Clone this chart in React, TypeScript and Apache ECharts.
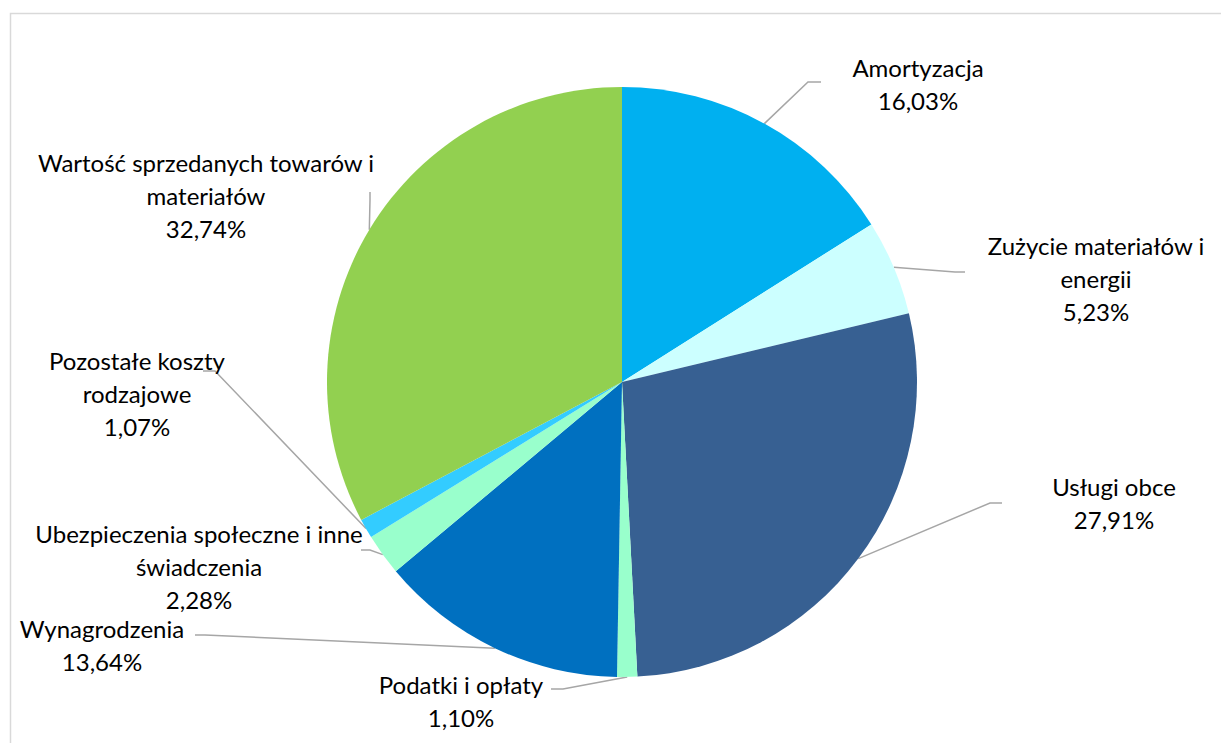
import { useEffect, useRef } from "react";
import * as echarts from "echarts";

// ---- data ----
const categories: string[] = [
  "Amortyzacja",
  "Zużycie materiałów i energii",
  "Usługi obce",
  "Podatki i opłaty",
  "Wynagrodzenia",
  "Ubezpieczenia społeczne i inne świadczenia",
  "Pozostałe koszty rodzajowe",
  "Wartość sprzedanych towarów i materiałów",
];
const values: number[] = [16.03, 5.23, 27.91, 1.1, 13.64, 2.28, 1.07, 32.74];

// ---- presentation ----
const colors: string[] = [
  "#00B0F0",
  "#CCFFFF",
  "#376092",
  "#99FFCC",
  "#0070C0",
  "#99FFCC",
  "#33CCFF",
  "#92D050",
];
const wrappedNames: string[] = [
  "Amortyzacja",
  "Zużycie materiałów i\nenergii",
  "Usługi obce",
  "Podatki i opłaty",
  "Wynagrodzenia",
  "Ubezpieczenia społeczne i inne\nświadczenia",
  "Pozostałe koszty\nrodzajowe",
  "Wartość sprzedanych towarów i\nmateriałów",
];
// label block centres (px)
const labelCenters: [number, number][] = [
  [918, 84],
  [1096, 278],
  [1114, 503],
  [461, 701],
  [102, 645],
  [199, 566],
  [137, 393],
  [206, 195],
];
// leader line bend + end (px)
const leaderTails: [number, number][][] = [
  [[808, 82], [821, 82]],
  [[955, 272], [965, 272]],
  [[990, 503], [1002, 503]],
  [[563, 689], [551, 689]],
  [[205, 635], [195, 635]],
  [[370, 550], [361, 550]],
  [[215, 371], [203, 371]],
  [[370, 200], [370, 192]],
];

const fmt = (v: number) => v.toFixed(2).replace(".", ",") + "%";

export default function App() {
  const ref = useRef<HTMLDivElement>(null);
  useEffect(() => {
    if (!ref.current) return;
    const chart = echarts.init(ref.current, undefined, { renderer: "svg" });
    chart.setOption({
      animation: false,
      backgroundColor: "#ffffff",
      graphic: [
        {
          type: "polyline",
          shape: { points: [[10.5, 743], [10.5, 13.5], [1221, 13.5]] },
          style: { stroke: "#D9D9D9", lineWidth: 1.5, fill: "none" },
          silent: true,
        },
      ],
      series: [
        {
          type: "pie",
          center: [622, 382],
          radius: 295,
          startAngle: 90,
          clockwise: true,
          avoidLabelOverlap: false,
          data: categories.map((name, i) => ({
            name,
            value: values[i],
            itemStyle: { color: colors[i] },
          })),
          itemStyle: { borderWidth: 0 },
          label: {
            show: true,
            formatter: (p: any) => `${wrappedNames[p.dataIndex]}\n${fmt(values[p.dataIndex])}`,
            fontFamily: "Lato",
            fontSize: 24,
            lineHeight: 33,
            color: "#000000",
            align: "center",
          },
          labelLine: {
            show: true,
            length: 10,
            length2: 10,
            lineStyle: { color: "#A6A6A6", width: 1.5 },
          },
          labelLayout: (params: any) => {
            const i = params.dataIndex;
            const start = params.labelLinePoints ? params.labelLinePoints[0] : [0, 0];
            return {
              x: labelCenters[i][0],
              y: labelCenters[i][1],
              align: "center",
              verticalAlign: "middle",
              labelLinePoints: [start, leaderTails[i][0], leaderTails[i][1]],
            };
          },
          emphasis: { disabled: true },
        },
      ],
    });
    return () => chart.dispose();
  }, []);
  return (
    <div
      ref={ref}
      style={{ position: "fixed", left: 0, top: 0, width: 1221, height: 743 }}
    />
  );
}
